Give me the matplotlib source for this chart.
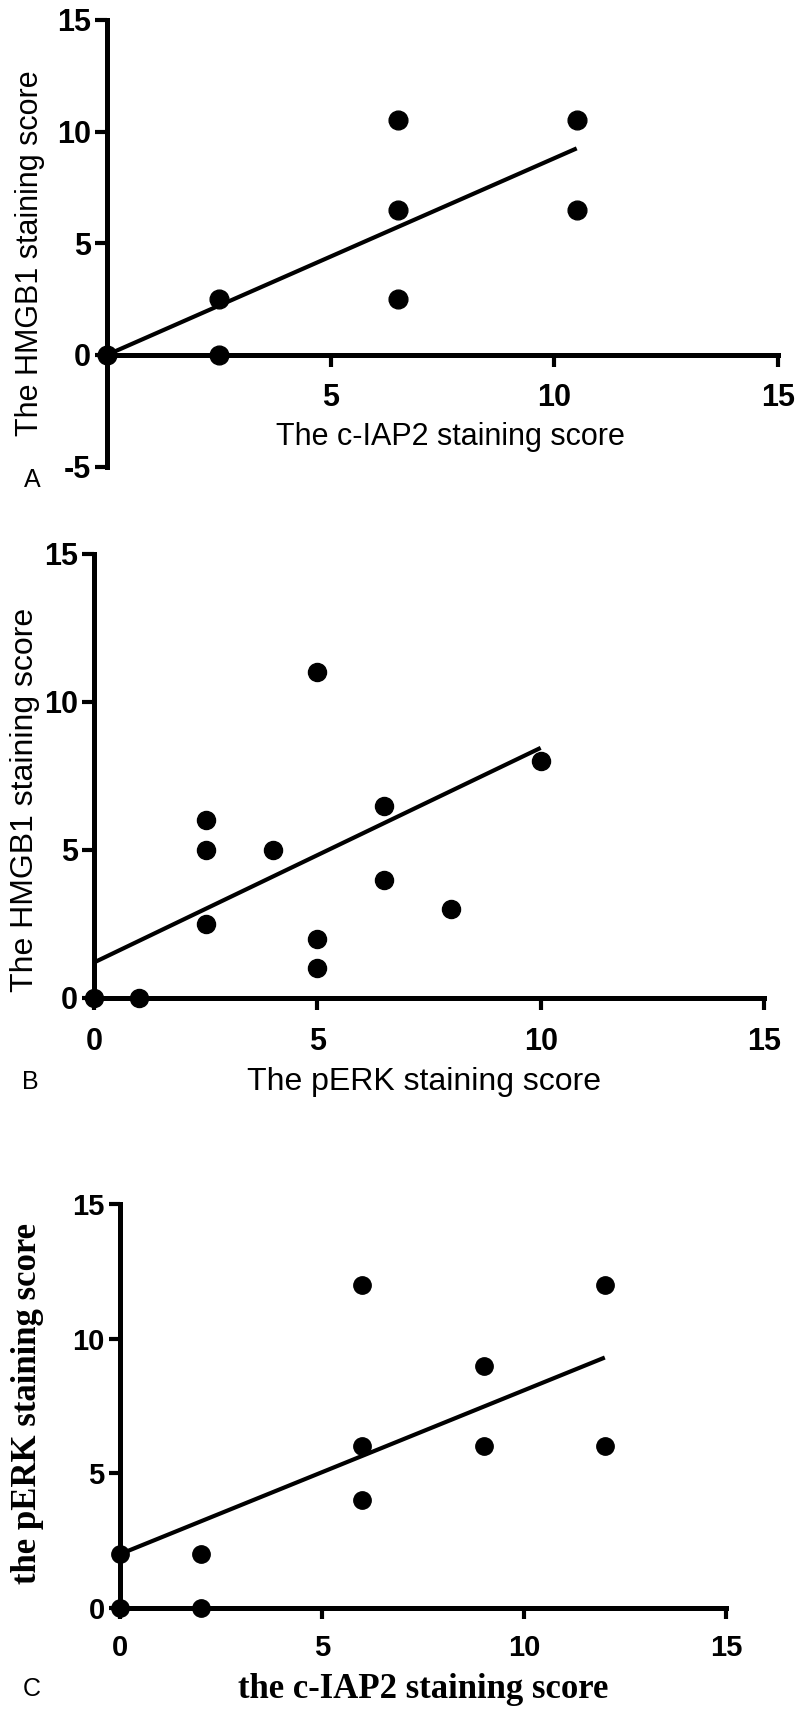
import matplotlib
matplotlib.use("Agg")
import matplotlib.pyplot as plt

plt.rcParams["axes.unicode_minus"] = False

# ---------------- data ----------------
# Panel A: c-IAP2 vs HMGB1
a_x = [0, 2.5, 2.5, 6.5, 6.5, 6.5, 10.5, 10.5]
a_y = [0, 0, 2.5, 2.5, 6.5, 10.5, 6.5, 10.5]
a_fit_x = [0, 10.5]
a_fit_y = [0, 9.25]

# Panel B: pERK vs HMGB1
b_x = [0, 1, 2.5, 2.5, 2.5, 4, 5, 5, 5, 6.5, 6.5, 8, 10]
b_y = [0, 0, 6, 5, 2.5, 5, 11, 2, 1, 6.5, 4, 3, 8]
b_fit_x = [0, 10]
b_fit_y = [1.2, 8.45]

# Panel C: c-IAP2 vs pERK
c_x = [0, 0, 2, 2, 6, 6, 6, 9, 9, 12, 12]
c_y = [0, 2, 2, 0, 12, 6, 4, 9, 6, 12, 6]
c_fit_x = [0, 12]
c_fit_y = [2.0, 9.3]

a_xticks = [5, 10, 15]
a_yticks = [-5, 0, 5, 10, 15]
b_xticks = [0, 5, 10, 15]
b_yticks = [0, 5, 10, 15]
c_xticks = [0, 5, 10, 15]
c_yticks = [0, 5, 10, 15]

a_xlabel = "The c-IAP2 staining score"
a_ylabel = "The HMGB1 staining score"
b_xlabel = "The pERK staining score"
b_ylabel = "The HMGB1 staining score"
c_xlabel = "the c-IAP2 staining score"
c_ylabel = "the pERK staining score"

# ---------------- layout helpers ----------------
W, H = 800, 1709
fig = plt.figure(figsize=(W / 100, H / 100), dpi=100)
fig.patch.set_facecolor("white")

SANS = "Liberation Sans"
SERIF = "Liberation Serif"


def fx(px):
    return px / W


def fy(py):
    return 1 - py / H


def make_axes(x0, x1, ytop, ybot):
    return fig.add_axes([fx(x0), fy(ybot), (x1 - x0) / W, (ybot - ytop) / H])


def style(ax, xlim, ylim, xticks, yticks, tsize, xpad, ypad, ticklen,
          xspine_at=None):
    for s in ["top", "right"]:
        ax.spines[s].set_visible(False)
    if xspine_at is not None:
        ax.spines["bottom"].set_position(("data", xspine_at))
    ax.set_xlim(*xlim)
    ax.set_ylim(*ylim)
    ax.set_xticks(xticks)
    ax.set_yticks(yticks)
    ax.set_xticklabels([str(t) for t in xticks])
    ax.set_yticklabels([str(t) for t in yticks])
    for s in ["left", "bottom"]:
        ax.spines[s].set_linewidth(3.6)
        ax.spines[s].set_color("black")
        ax.spines[s].set_capstyle("projecting")
    ax.tick_params(axis="both", direction="out", length=ticklen, width=3.0,
                   color="black")
    ax.tick_params(axis="x", pad=xpad)
    ax.tick_params(axis="y", pad=ypad)
    for lab in ax.get_xticklabels() + ax.get_yticklabels():
        lab.set_fontfamily(SANS)
        lab.set_fontweight("bold")
        lab.set_fontsize(tsize)
    ax.patch.set_alpha(0)


def draw(ax, x, y, fx_, fy_, ms):
    ax.plot(x, y, "o", color="black", markersize=ms, clip_on=False, zorder=5)
    ax.plot(fx_, fy_, "-", color="black", linewidth=3.0, clip_on=False,
            zorder=4, solid_capstyle="butt")


# ---------------- Panel A ----------------
axA = make_axes(107, 778, 20, 466.5)
style(axA, (0, 15), (-5, 15), a_xticks, a_yticks, 22, 12, 3, 8.6,
      xspine_at=0)
draw(axA, a_x, a_y, a_fit_x, a_fit_y, 13.5)
fig.text(fx(450), fy(437), a_xlabel, fontsize=22, family=SANS,
         ha="center", va="center")
fig.text(fx(30), fy(253), a_ylabel, fontsize=22, family=SANS,
         ha="center", va="center", rotation=90)
fig.text(fx(32), fy(480), "A", fontsize=18, family=SANS,
         ha="center", va="center")

# ---------------- Panel B ----------------
axB = make_axes(94, 764, 554, 998)
style(axB, (0, 15), (0, 15), b_xticks, b_yticks, 22, 12, 3, 8.6)
draw(axB, b_x, b_y, b_fit_x, b_fit_y, 13)
fig.text(fx(424), fy(1082), b_xlabel, fontsize=23, family=SANS,
         ha="center", va="center")
fig.text(fx(25), fy(800), b_ylabel, fontsize=23, family=SANS,
         ha="center", va="center", rotation=90)
fig.text(fx(30), fy(1082), "B", fontsize=18, family=SANS,
         ha="center", va="center")

# ---------------- Panel C ----------------
axC = make_axes(120, 726, 1204, 1608)
style(axC, (0, 15), (0, 15), c_xticks, c_yticks, 21, 11, 3, 8.0)
draw(axC, c_x, c_y, c_fit_x, c_fit_y, 12.5)
fig.text(fx(423), fy(1689), c_xlabel, fontsize=25, family=SERIF,
         fontweight="bold", ha="center", va="center")
fig.text(fx(28), fy(1403), c_ylabel, fontsize=25, family=SERIF,
         fontweight="bold", ha="center", va="center", rotation=90)
fig.text(fx(32), fy(1689), "C", fontsize=18, family=SANS,
         ha="center", va="center")

fig.savefig("out.png", dpi=100, facecolor="white")
